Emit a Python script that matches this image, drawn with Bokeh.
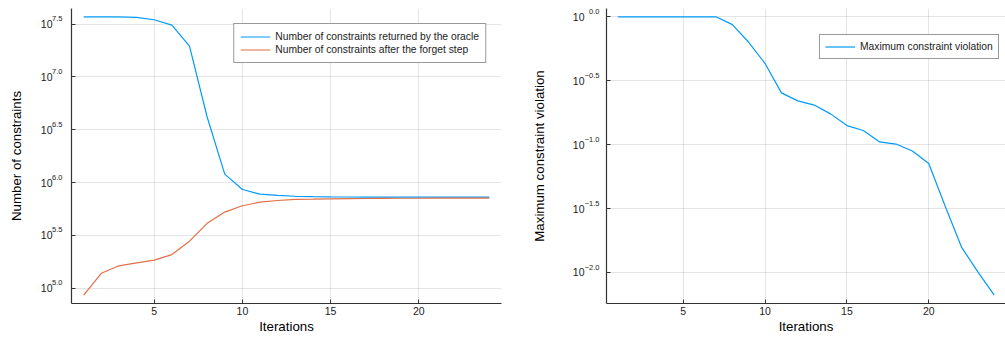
from bokeh.plotting import figure
from bokeh.layouts import row
from bokeh.models import Range1d, FixedTicker, Legend, LegendItem, LogAxis
from bokeh.embed import file_html
from bokeh.resources import INLINE

iterations = list(range(1, 25))
oracle_constraints = [3.70e7, 3.70e7, 3.69e7, 3.65e7, 3.47e7, 3.09e7, 1.95e7, 4.17e6,
                      1.20e6, 8.59e5, 7.76e5, 7.55e5, 7.41e5, 7.35e5, 7.31e5, 7.29e5,
                      7.28e5, 7.28e5, 7.27e5, 7.27e5, 7.26e5, 7.26e5, 7.26e5, 7.26e5]
kept_constraints = [8.59e4, 1.384e5, 1.629e5, 1.738e5, 1.841e5, 2.08e5, 2.786e5, 4.111e5,
                    5.248e5, 6.026e5, 6.516e5, 6.761e5, 6.918e5, 6.966e5, 7.015e5, 7.047e5,
                    7.063e5, 7.079e5, 7.096e5, 7.096e5, 7.112e5, 7.112e5, 7.112e5, 7.112e5]
max_violation = [1.0, 1.0, 1.0, 1.0, 1.0, 1.0, 1.0, 0.869, 0.632, 0.431, 0.254, 0.220,
                 0.204, 0.174, 0.141, 0.129, 0.105, 0.101, 0.0891, 0.0711, 0.0331,
                 0.0158, 0.0101, 0.00664]

x_ticks = [5, 10, 15, 20]
left_ytick_vals = [10**5.0, 10**5.5, 10**6.0, 10**6.5, 10**7.0, 10**7.5]
left_ytick_exps = ["5.0", "5.5", "6.0", "6.5", "7.0", "7.5"]
right_ytick_vals = [10**0.0, 10**-0.5, 10**-1.0, 10**-1.5, 10**-2.0]
right_ytick_exps = ["0.0", "\u22120.5", "\u22121.0", "\u22121.5", "\u22122.0"]

legend_left = ["Number of constraints returned by the oracle",
               "Number of constraints after the forget step"]
legend_right = ["Maximum constraint violation"]

BLUE = "#009AFA"
RED = "#E36F47"
FONT = "Liberation Sans"
AXIS_COLOR = "#333333"
TICK_TEXT = "#222222"


def style(p, xlabel, ylabel, yticks, yexps, exp_standoff, ylabel_standoff):
    p.outline_line_color = None
    p.background_fill_color = "white"
    p.border_fill_color = "white"
    xax = p.xaxis[0]
    yax = p.yaxis[0]
    for ax in (xax, yax):
        ax.axis_line_color = AXIS_COLOR
        ax.axis_line_width = 1.2
        ax.major_tick_in = 4
        ax.major_tick_out = 0
        ax.major_tick_line_color = AXIS_COLOR
        ax.minor_tick_line_color = None
        ax.major_label_text_font = FONT
        ax.major_label_text_color = TICK_TEXT
        ax.axis_label_text_font = FONT
        ax.axis_label_text_font_size = "13.3px"
        ax.axis_label_text_font_style = "normal"
        ax.axis_label_text_color = "black"
    xax.ticker = FixedTicker(ticks=x_ticks, minor_ticks=[])
    xax.major_label_text_font_size = "10.5px"
    xax.major_label_standoff = 3
    xax.axis_label = xlabel
    xax.axis_label_standoff = 1
    # inner y axis: exponents, raised half a line
    yax.ticker = FixedTicker(ticks=yticks, minor_ticks=[])
    yax.major_label_overrides = {v: e + "\n" for v, e in zip(yticks, yexps)}
    yax.major_label_text_font_size = "7.5px"
    yax.major_label_standoff = exp_standoff
    # outer y axis: the base "10" and the title
    outer = LogAxis(ticker=FixedTicker(ticks=yticks, minor_ticks=[]),
                    major_label_overrides={v: "10" for v in yticks})
    outer.axis_line_color = None
    outer.major_tick_line_color = None
    outer.minor_tick_line_color = None
    outer.major_tick_in = 0
    outer.major_tick_out = 0
    outer.major_label_standoff = -3
    outer.major_label_text_font = FONT
    outer.major_label_text_font_size = "10.5px"
    outer.major_label_text_color = TICK_TEXT
    outer.axis_label = ylabel
    outer.axis_label_standoff = ylabel_standoff
    outer.axis_label_text_font = FONT
    outer.axis_label_text_font_size = "13.3px"
    outer.axis_label_text_font_style = "normal"
    outer.axis_label_text_color = "black"
    p.add_layout(outer, "left")
    for g in (p.xgrid[0], p.ygrid[0]):
        g.grid_line_color = "black"
        g.grid_line_alpha = 0.1
        g.grid_line_width = 1


def make_legend(items, location, padding):
    lg = Legend(items=items, location=location)
    lg.label_text_font = FONT
    lg.label_text_font_size = "10.3px"
    lg.label_text_color = TICK_TEXT
    lg.glyph_width = 30
    lg.glyph_height = 13
    lg.label_height = 13
    lg.label_standoff = 5
    lg.spacing = 0
    lg.padding = padding
    lg.border_line_color = AXIS_COLOR
    lg.border_line_width = 1
    lg.background_fill_color = "white"
    lg.background_fill_alpha = 1
    return lg


X0, X1 = 0.31, 24.69

p1 = figure(width=528, height=336, y_axis_type="log", output_backend="svg",
            toolbar_location=None, x_range=Range1d(X0, X1),
            y_range=Range1d(10**4.855, 10**7.647),
            min_border_left=71, min_border_right=27, min_border_top=0, min_border_bottom=0)
style(p1, "Iterations", "Number of constraints", left_ytick_vals, left_ytick_exps, 9, 14)
r1 = p1.line(iterations, oracle_constraints, line_color=BLUE, line_width=1.2)
r2 = p1.line(iterations, kept_constraints, line_color=RED, line_width=1.2)
lg1 = make_legend([LegendItem(label=legend_left[0], renderers=[r1]),
                   LegendItem(label=legend_left[1], renderers=[r2])], "top_right", 6)
lg1.margin = 15
p1.add_layout(lg1, "center")

p2 = figure(width=477, height=336, y_axis_type="log", output_backend="svg",
            toolbar_location=None, x_range=Range1d(X0, X1),
            y_range=Range1d(10**-2.243, 10**0.065),
            min_border_left=69, min_border_right=0, min_border_top=8, min_border_bottom=0)
style(p2, "Iterations", "Maximum constraint violation", right_ytick_vals,
      right_ytick_exps, 7, 23)
r3 = p2.line(iterations, max_violation, line_color=BLUE, line_width=1.2)
lg2 = make_legend([LegendItem(label=legend_right[0], renderers=[r3])], (213, 244), 5)
p2.add_layout(lg2, "center")

layout = row(p1, p2)
open("out.html", "w").write(file_html(layout, INLINE))
